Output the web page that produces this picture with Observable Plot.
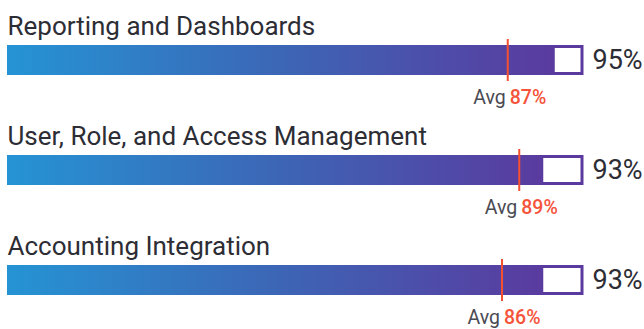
<!DOCTYPE html>
<html>
<head>
<meta charset="utf-8">
<script src="https://cdn.jsdelivr.net/npm/d3@7"></script>
<script src="https://cdn.jsdelivr.net/npm/@observablehq/plot@0.6"></script>
<style>
  html, body { margin: 0; padding: 0; background: #fff; }
  #chart svg { display: block; }
</style>
</head>
<body>
<div id="chart"></div>
<script>
const categories = ["Reporting and Dashboards", "User, Role, and Access Management", "Accounting Integration"];
const scores = [95, 93, 93];
const averages = [87, 89, 86];

const rows = categories.map((c, i) => ({category: c, score: scores[i], avg: averages[i]}));

const font = "Roboto, sans-serif";
const ink = "#2d2d35";
const purple = "#5a3a9f";
const red = "#f5533a";

const gradientDefs = () => {
  const defs = d3.create("svg:defs");
  const g = defs.append("linearGradient").attr("id", "barGrad").attr("x1", "0").attr("x2", "1").attr("y1", "0").attr("y2", "0");
  g.append("stop").attr("offset", "0%").attr("stop-color", "#2594d4");
  g.append("stop").attr("offset", "50%").attr("stop-color", "#3c66b6");
  g.append("stop").attr("offset", "100%").attr("stop-color", "#5a3b9f");
  return defs.node();
};

const chart = Plot.plot({
  width: 644,
  height: 329,
  margin: 0,
  x: {domain: [0, 100], range: [7, 582], axis: null},
  y: {type: "band", domain: categories, range: [5, 335], padding: 0, axis: null},
  marks: [
    gradientDefs,
    Plot.barX(rows, {x1: "score", x2: 100, y: "category", fill: "white", stroke: purple, strokeWidth: 3, insetTop: 41.5, insetBottom: 41.5}),
    Plot.barX(rows, {x1: 0, x2: "score", y: "category", fill: "url(#barGrad)", insetTop: 40, insetBottom: 40}),
    Plot.tickX(rows, {x: "avg", y: "category", stroke: "#f5502f", strokeWidth: 2, insetTop: 34, insetBottom: 34}),
    Plot.text(rows, {x: 0, y: "category", text: "category", textAnchor: "start", dy: -34, fontSize: 26, fill: ink, fontFamily: font}),
    Plot.text(rows, {x: 100, y: "category", text: d => d.score + "%", textAnchor: "start", dx: 10, fontSize: 27, fill: ink, fontFamily: font}),
    Plot.text(rows, {x: "avg", y: "category", text: () => "Avg", textAnchor: "end", dx: -2, dy: 37, fontSize: 19.5, fill: "#4a4a52", fontFamily: font}),
    Plot.text(rows, {x: "avg", y: "category", text: d => d.avg + "%", textAnchor: "start", dx: 2, dy: 37, fontSize: 19.5, fontWeight: 500, fill: red, fontFamily: font})
  ]
});
document.getElementById("chart").appendChild(chart);
</script>
</body>
</html>
